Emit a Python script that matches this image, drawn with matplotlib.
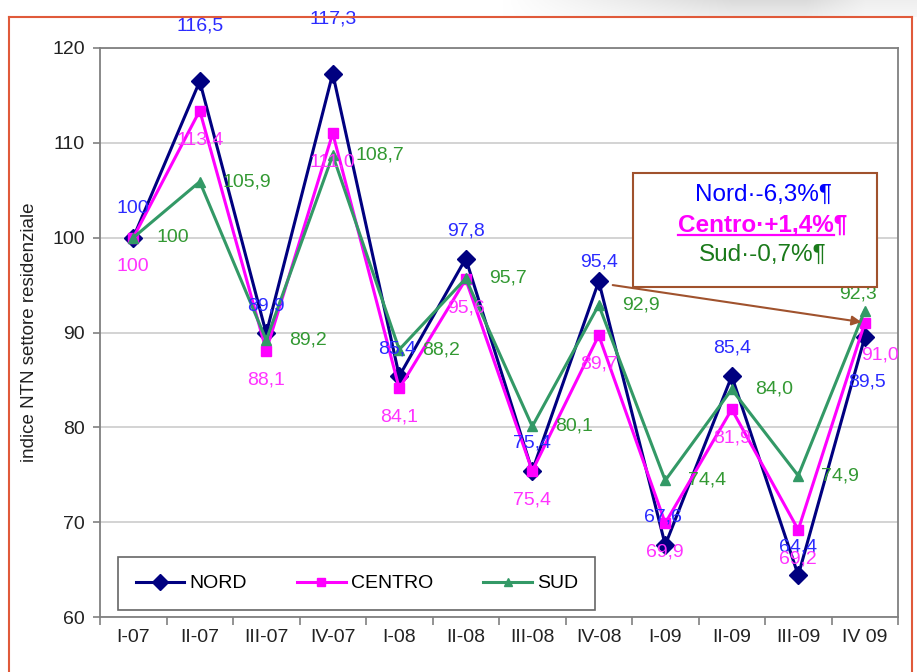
import matplotlib
matplotlib.use("Agg")
import matplotlib.pyplot as plt
import numpy as np
from matplotlib.lines import Line2D
from matplotlib.patches import Rectangle

plt.rcParams['font.family'] = ['Liberation Sans', 'DejaVu Sans']

# quarterly NTN index, residential sector (I-07 = 100)
quarters = ["I-07", "II-07", "III-07", "IV-07", "I-08", "II-08",
            "III-08", "IV-08", "I-09", "II-09", "III-09", "IV 09"]
nord = [100, 116.5, 89.9, 117.3, 85.4, 97.8, 75.4, 95.4, 67.6, 85.4, 64.4, 89.5]
centro = [100, 113.4, 88.1, 111.0, 84.1, 95.6, 75.4, 89.7, 69.9, 81.9, 69.2, 91.0]
sud = [100, 105.9, 89.2, 108.7, 88.2, 95.7, 80.1, 92.9, 74.4, 84.0, 74.9, 92.3]
summary = ["Nord·-6,3%¶", "Centro·+1,4%¶", "Sud·-0,7%¶"]
y_ticks = [60, 70, 80, 90, 100, 110, 120]

# label offsets (pixels, x right / y up)
nord_off = [(0, 29), (0, 55), (0, 27), (0, 55), (-2, 27), (0, 28),
            (0, 28), (0, 19), (-2, 28), (0, 28), (0, 28), (2, -45)]

W, H = 917, 672
fig = plt.figure(figsize=(W / 100, H / 100), dpi=100)
fig.patch.set_facecolor('white')

# soft grey shading strip along the top edge
bg = fig.add_axes([0, 1 - 17 / H, 1, 17 / H], zorder=-5)
gx = np.linspace(0, 1, 400)
gy = np.linspace(0, 1, 20)[:, None]
shade = np.clip((gx - 0.55) / 0.25, 0, 1) * np.clip((1.0 - gx) / 0.12, 0.45, 1)
shade = shade[None, :] * (1 - 0.5 * gy)
img = np.ones((20, 400, 3)) - 0.14 * shade[..., None]
bg.imshow(img, aspect='auto', extent=(0, 1, 0, 1))
bg.set_axis_off()

# red frame
frame_c = '#e05a3a'
fig.add_artist(Line2D([9 / W, 9 / W], [0, 1 - 17 / H], color=frame_c, lw=1.5, transform=fig.transFigure))
fig.add_artist(Line2D([912 / W, 912 / W], [0, 1 - 17 / H], color=frame_c, lw=1.5, transform=fig.transFigure))
fig.add_artist(Line2D([9 / W, 912 / W], [1 - 17 / H, 1 - 17 / H], color=frame_c, lw=1.5, transform=fig.transFigure))

ax = fig.add_axes([100 / W, 55 / H, 798 / W, 569 / H])
x = np.arange(len(quarters))

ax.plot(x, nord, color='#000080', lw=2.2, marker='D', ms=9.5, mec='#000080', mfc='#000080', label='NORD', zorder=3)
ax.plot(x, centro, color='#ff00ff', lw=2.2, marker='s', ms=6.5, mec='#ff00ff', mfc='#ff00ff', label='CENTRO', zorder=4)
ax.plot(x, sud, color='#339966', lw=2.2, marker='^', ms=7.5, mec='#339966', mfc='#339966', label='SUD', zorder=5)


def fmt(v, i):
    return "100" if i == 0 else f"{v:.1f}".replace('.', ',')


lbl_fs = 14
for i, v in enumerate(nord):
    ax.annotate(fmt(v, i), (x[i], v), xytext=nord_off[i], textcoords='offset pixels',
                ha='center', va='center', color='#2b2bff', fontsize=lbl_fs, zorder=6,
                annotation_clip=False)
for i, v in enumerate(centro):
    off = (15, -32) if i == len(centro) - 1 else (0, -29)
    ax.annotate(fmt(v, i), (x[i], v), xytext=off, textcoords='offset pixels',
                ha='center', va='center', color='#ff33ff', fontsize=lbl_fs, zorder=6,
                annotation_clip=False)
for i, v in enumerate(sud):
    if i == len(sud) - 1:
        ax.annotate(fmt(v, i), (x[i], v), xytext=(-7, 17), textcoords='offset pixels',
                    ha='center', va='center', color='#339933', fontsize=lbl_fs, zorder=6)
    else:
        ax.annotate(fmt(v, i), (x[i], v), xytext=(23, 0), textcoords='offset pixels',
                    ha='left', va='center', color='#339933', fontsize=lbl_fs, zorder=6)

# axes styling
ax.set_xlim(-0.5, len(quarters) - 0.5)
ax.set_ylim(60, 120)
ax.set_yticks(y_ticks)
ax.set_xticks(np.arange(-0.5, len(quarters), 1.0))
ax.set_xticklabels([])
ax.set_xticks(x, minor=True)
ax.set_xticklabels(quarters, minor=True)
ax.tick_params(axis='x', which='major', length=6, width=1.2, color='#808080', direction='out')
ax.tick_params(axis='x', which='minor', length=0, pad=9, labelsize=14, labelcolor='#222222')
ax.tick_params(axis='y', length=5, width=1.2, color='#808080', pad=6, labelsize=14, labelcolor='#222222')
ax.yaxis.grid(True, color='#c8c8c8', lw=1.1)
ax.set_axisbelow(True)
for s in ax.spines.values():
    s.set_color('#808080')
    s.set_linewidth(1.3)
ax.set_ylabel("indice NTN settore residenziale", fontsize=13.5, color='#222222', labelpad=10)

leg = ax.legend(loc='lower left', bbox_to_anchor=(18 / 798, 7 / 569), ncol=3, frameon=True,
                fancybox=False, edgecolor='#404040', fontsize=14, handlelength=2.5,
                handletextpad=0.25, columnspacing=2.6, borderpad=0.9, borderaxespad=0,
                numpoints=1, markerscale=0.85)
leg.get_frame().set_linewidth(1.2)
leg.set_zorder(7)

# arrow from the note box towards the last quarter
ax.annotate("", xy=(10.95, 91.1), xytext=(7.21, 95.0),
            arrowprops=dict(arrowstyle='-|>', color='#a0522d', lw=1.5, mutation_scale=14,
                            shrinkA=0, shrinkB=0), zorder=8)

# note box with the yearly changes
bx0, bx1 = (633 - 100) / 798, (877 - 100) / 798
by0, by1 = (617 - 287) / 569, (617 - 173) / 569
ax.add_patch(Rectangle((bx0, by0), bx1 - bx0, by1 - by0, transform=ax.transAxes,
                       facecolor='white', edgecolor='#a0522d', lw=1.5, zorder=9))
cx = (763 - 100) / 798
note_cols = ['#0000ff', '#ff00ff', '#1a7a1a']
note_y = [195, 225, 255]
texts = []
for s, c, yy in zip(summary, note_cols, note_y):
    t = ax.text(cx, (617 - yy) / 569, s, transform=ax.transAxes, ha='center', va='center',
                color=c, fontsize=17.5, zorder=10,
                fontweight='bold' if s.startswith('Centro') else 'normal')
    texts.append(t)

fig.canvas.draw()
r = fig.canvas.get_renderer()
ct = texts[1]
bb = ct.get_window_extent(r)
tmp = ax.text(0, 0, "¶", fontsize=17.5, fontweight='bold')
pw = tmp.get_window_extent(r).width
tmp.remove()
uy = bb.y0 + 2
fig.add_artist(Line2D([bb.x0 / W, (bb.x1 - pw) / W], [uy / H, uy / H],
                      color='#ff00ff', lw=1.6, transform=fig.transFigure, zorder=11))

fig.savefig("out.png", dpi=100, facecolor='white')
